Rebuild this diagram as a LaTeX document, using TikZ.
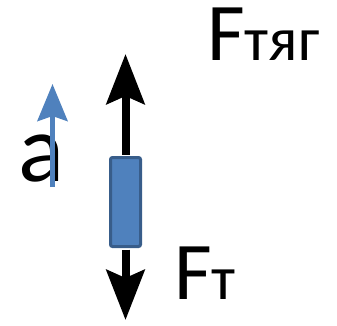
\documentclass[tikz,border=0pt]{standalone}
\usepackage{fontspec}
\setmainfont{Carlito}
\usetikzlibrary{arrows.meta}
\definecolor{boxblue}{HTML}{4F81BD}
\definecolor{boxedge}{HTML}{385D8A}

\begin{document}
\begin{tikzpicture}[x=1pt,y=-1pt,
    force/.style={line width=8pt,shorten <=1.5pt,-{Stealth[length=50pt,width=38pt,inset=8pt]}},
    accel/.style={boxblue,line width=5pt,-{Stealth[length=37pt,width=30pt,inset=5pt]}},
    lbl/.style={anchor=base west,inner sep=0pt}]
        \useasboundingbox (0,0) rectangle (337,325);

        \node[lbl] (ftyag) at (207,60) {\fontsize{82}{90}\selectfont F\fontsize{62}{66}\selectfont тяг};
        \node[lbl] (ft) at (174,299) {\fontsize{82}{90}\selectfont F\fontsize{62}{66}\selectfont т};
        \node[lbl] (acc) at (18,181) {\fontsize{96}{100}\selectfont a};

        \node[draw=boxedge, fill=boxblue, line width=3pt, rounded corners=2pt,
              minimum width=30pt, minimum height=89pt, inner sep=0pt] (body) at (125.5,202) {};

        \coordinate (up) at (125.5,54);
        \coordinate (down) at (125.5,320);
        \coordinate (atail) at (52.5,187);
        \coordinate (ahead) at (52.5,84);

        \draw[force] (body.north) -- (up);
        \draw[force] (body.south) -- (down);

        \draw[accel] (atail) -- (ahead);

    \end{tikzpicture}
\end{document}
